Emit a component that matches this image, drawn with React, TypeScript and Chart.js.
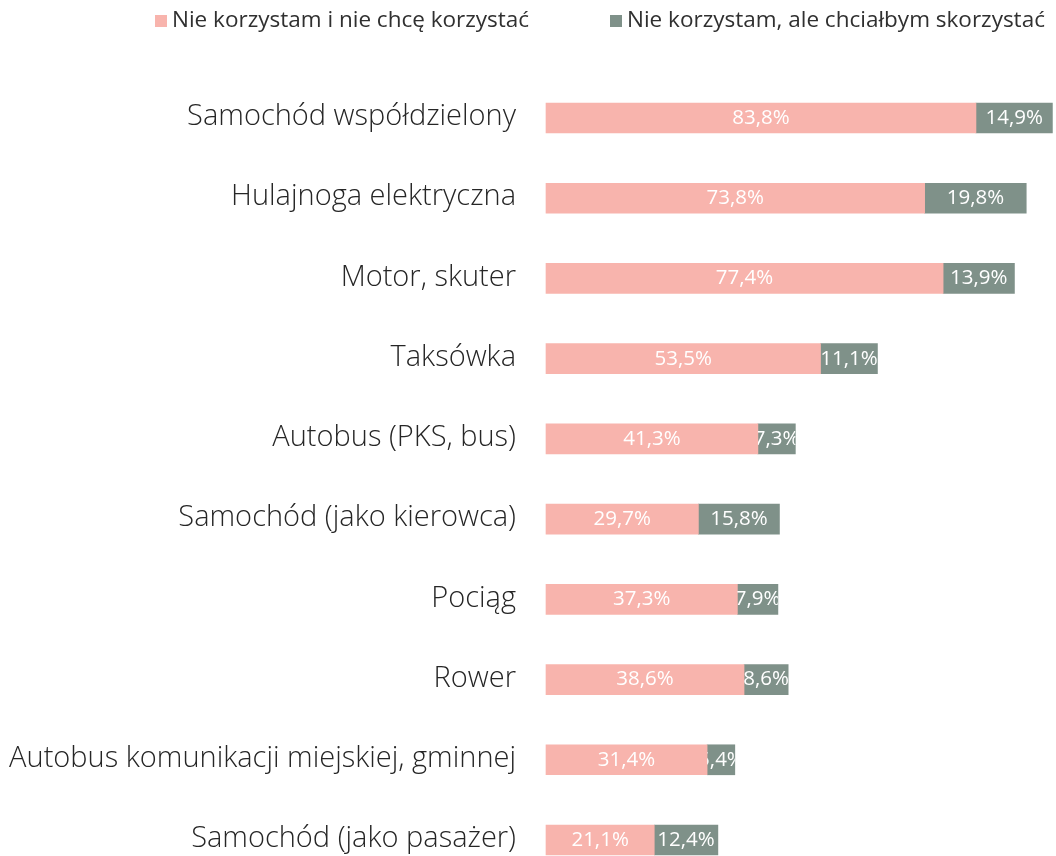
import React, { useEffect, useRef } from "react";
import { Chart, registerables } from "chart.js";

Chart.register(...registerables);

const categories = [
  "Samochód współdzielony",
  "Hulajnoga elektryczna",
  "Motor, skuter",
  "Taksówka",
  "Autobus (PKS, bus)",
  "Samochód (jako kierowca)",
  "Pociąg",
  "Rower",
  "Autobus komunikacji miejskiej, gminnej",
  "Samochód (jako pasażer)",
];
const seriesNames = [
  "Nie korzystam i nie chcę korzystać",
  "Nie korzystam, ale chciałbym skorzystać",
];
const notWanting = [83.8, 73.8, 77.4, 53.5, 41.3, 29.7, 37.3, 38.6, 31.4, 21.1];
const wanting = [14.9, 19.8, 13.9, 11.1, 7.3, 15.8, 7.9, 8.6, 5.4, 12.4];

const PINK = "#F8B4AD";
const GREY = "#7F9189";
const FONT = '"Open Sans", "DejaVu Sans", sans-serif';

const fmt = (v: number) => v.toFixed(1).replace(".", ",") + "%";

const barLabels = {
  id: "barLabels",
  afterDatasetsDraw(chart: any) {
    const ctx = chart.ctx;
    chart.data.datasets.forEach((ds: any, di: number) => {
      const meta = chart.getDatasetMeta(di);
      meta.data.forEach((bar: any, i: number) => {
        const p = bar.getProps(["x", "y", "base", "height"], true);
        const left = Math.min(p.x, p.base);
        const right = Math.max(p.x, p.base);
        ctx.save();
        ctx.beginPath();
        ctx.rect(left, p.y - p.height / 2, right - left, p.height);
        ctx.clip();
        ctx.fillStyle = "#FFFFFF";
        ctx.font = "20.5px " + FONT;
        ctx.textAlign = "center";
        ctx.textBaseline = "middle";
        ctx.fillText(fmt(ds.data[i]), (left + right) / 2, p.y);
        ctx.restore();
      });
    });
  },
};

const topLegend = {
  id: "topLegend",
  afterDraw(chart: any) {
    const ctx = chart.ctx;
    const starts = [155, 610];
    ctx.save();
    ctx.font = "22.5px " + FONT;
    ctx.textBaseline = "middle";
    ctx.textAlign = "left";
    chart.data.datasets.forEach((ds: any, di: number) => {
      const x = starts[di];
      const y = 21;
      ctx.fillStyle = ds.backgroundColor;
      ctx.fillRect(x, y - 6, 12, 12);
      ctx.fillStyle = "#303030";
      ctx.fillText(ds.label, x + 17, y);
    });
    ctx.restore();
  },
};

export default function App() {
  const ref = useRef<HTMLCanvasElement | null>(null);

  useEffect(() => {
    let chart: Chart | null = null;
    let cancelled = false;
    const make = () => {
      if (cancelled || !ref.current) return;
      chart = new Chart(ref.current, {
        type: "bar",
        data: {
          labels: categories,
          datasets: [
            {
              label: seriesNames[0],
              data: notWanting,
              backgroundColor: PINK,
              barThickness: 30,
              clip: false as any,
            },
            {
              label: seriesNames[1],
              data: wanting,
              backgroundColor: GREY,
              barThickness: 30,
              clip: false as any,
            },
          ],
        },
        options: {
          indexAxis: "y",
          animation: false,
          responsive: false,
          layout: { padding: { top: 118, bottom: 16, right: 0, left: 0 } },
          plugins: {
            legend: { display: false },
            tooltip: { enabled: false },
          },
          scales: {
            x: {
              stacked: true,
              display: false,
              min: 0,
              max: 99.4,
            },
            y: {
              stacked: true,
              offset: false,
              grid: { display: false },
              border: { display: false },
              ticks: {
                color: "#262626",
                padding: 22,
                labelOffset: -1,
                font: { family: FONT, size: 29, weight: 300 as any },
              },
              afterFit: (scale: any) => {
                scale.width = 546;
                scale.paddingTop = 0;
                scale.paddingBottom = 0;
              },
            },
          },
        },
        plugins: [barLabels, topLegend],
      });
    };
    const fonts: any = (document as any).fonts;
    if (fonts && fonts.load) {
      Promise.all([
        fonts.load('300 29px "Open Sans"'),
        fonts.load('20px "Open Sans"'),
      ]).then(make, make);
    } else {
      make();
    }
    return () => {
      cancelled = true;
      if (chart) chart.destroy();
    };
  }, []);

  return (
    <canvas
      ref={ref}
      width={1056}
      height={856}
      style={{ position: "absolute", left: 0, top: 0, display: "block" }}
    />
  );
}
